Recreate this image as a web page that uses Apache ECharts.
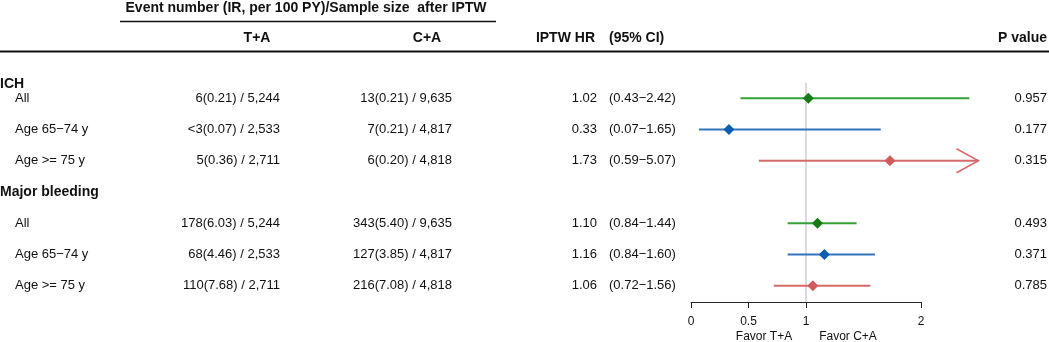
<!DOCTYPE html>
<html>
<head>
<meta charset="utf-8">
<script src="https://cdn.jsdelivr.net/npm/echarts/dist/echarts.min.js"></script>
<style>
  html, body { margin: 0; padding: 0; background: #fff; }
  #forest { width: 1049px; height: 342px; }
</style>
</head>
<body>
<div id="forest"></div>
<script>
// table data
var groups = ['ICH', 'Major bleeding'];
var groupPos = [0.55, 4];
var subgroups = ['All', 'Age 65\u221274 y', 'Age >= 75 y', 'All', 'Age 65\u221274 y', 'Age >= 75 y'];
var rowPos = [1, 2, 3, 5, 6, 7];
var taText = ['6(0.21) / 5,244', '<3(0.07) / 2,533', '5(0.36) / 2,711', '178(6.03) / 5,244', '68(4.46) / 2,533', '110(7.68) / 2,711'];
var caText = ['13(0.21) / 9,635', '7(0.21) / 4,817', '6(0.20) / 4,818', '343(5.40) / 9,635', '127(3.85) / 4,817', '216(7.08) / 4,818'];
var hr = [1.02, 0.33, 1.73, 1.10, 1.16, 1.06];
var lower = [0.43, 0.07, 0.59, 0.84, 0.84, 0.72];
var upper = [2.42, 1.65, 5.07, 1.44, 1.60, 1.56];
var pValues = ['0.957', '0.177', '0.315', '0.493', '0.371', '0.785'];
var tickValues = [0, 0.5, 1, 2];

var lineColors = ['#35a035', '#3474bd', '#d66a6a'];
var dotColors = ['#167a16', '#0c5eae', '#d25a5a'];
var FONT = '"Liberation Sans", Arial, sans-serif';
var clipMax = 2.5;

var chartDom = document.getElementById('forest');
var myChart = echarts.init(chartDom, null, { devicePixelRatio: 1, width: 1049, height: 342 });

var forestData = hr.map(function (h, i) {
  return [h, rowPos[i], lower[i], upper[i], i % 3];
});
var tableData = rowPos.map(function (p, i) { return [0, p, i]; });
var groupData = groupPos.map(function (p, i) { return [0, p, i]; });

function txt(s, x, y, align, bold, size) {
  return {
    type: 'text',
    style: {
      text: s, x: x, y: y, align: align, verticalAlign: 'middle',
      font: (bold ? 'bold ' : '') + (size || 13) + 'px ' + FONT,
      fill: '#111'
    }
  };
}

var option = {
  animation: false,
  grid: [
    { left: 691, top: 67, width: 299, height: 250 },
    { left: 691, top: 301, width: 230, height: 1 }
  ],
  xAxis: [
    { gridIndex: 0, type: 'value', min: 0, max: 2.6, show: false },
    {
      gridIndex: 1, type: 'value', min: 0, max: 2, position: 'bottom',
      axisLine: { show: true, lineStyle: { color: '#222', width: 1 } },
      axisTick: { show: true, length: 6, inside: false, customValues: tickValues, lineStyle: { color: '#222' } },
      axisLabel: { customValues: tickValues, margin: 14, fontSize: 12, color: '#111', fontFamily: FONT },
      splitLine: { show: false }
    }
  ],
  yAxis: [
    { gridIndex: 0, type: 'value', min: 0, max: 8, inverse: true, show: false },
    { gridIndex: 1, type: 'value', min: 0, max: 1, show: false }
  ],
  graphic: [
    txt('Event number (IR, per 100 PY)/Sample size  after IPTW', 306, 8, 'center', true, 14),
    { type: 'line', shape: { x1: 120, y1: 21.5, x2: 496, y2: 21.5 }, style: { stroke: '#111', lineWidth: 1.5 } },
    txt('T+A', 257, 38, 'center', true, 14),
    txt('C+A', 427, 38, 'center', true, 14),
    txt('IPTW HR', 595, 38, 'right', true, 14),
    txt('(95% CI)', 609, 38, 'left', true, 14),
    txt('P value', 1047, 38, 'right', true, 14),
    { type: 'line', shape: { x1: 0, y1: 51.5, x2: 1049, y2: 51.5 }, style: { stroke: '#111', lineWidth: 2 } },
    txt('Favor T+A', 764, 337, 'center', false, 12),
    txt('Favor C+A', 848, 337, 'center', false, 12)
  ],
  series: [
    {
      type: 'line',
      xAxisIndex: 0, yAxisIndex: 0,
      data: [[1, 0.5], [1, 7.5]],
      symbol: 'none',
      lineStyle: { color: '#cfcfcf', width: 1.5 },
      z: 1
    },
    {
      type: 'custom',
      xAxisIndex: 0, yAxisIndex: 0,
      data: forestData,
      z: 3,
      renderItem: function (params, api) {
        var y = api.coord([0, api.value(1)])[1];
        var xc = api.coord([api.value(0), 0])[0];
        var up = api.value(3);
        var xl = api.coord([api.value(2), 0])[0];
        var xu = api.coord([Math.min(up, clipMax), 0])[0];
        var ci = api.value(4);
        var children = [
          { type: 'line', shape: { x1: xl, y1: y, x2: xu, y2: y }, style: { stroke: lineColors[ci], lineWidth: 2 } }
        ];
        if (up > clipMax) {
          children.push({
            type: 'polyline',
            shape: { points: [[xu - 22, y - 12], [xu, y], [xu - 22, y + 12]] },
            style: { stroke: lineColors[ci], lineWidth: 1.5, fill: null }
          });
        }
        children.push({
          type: 'polygon',
          shape: { points: [[xc - 5.5, y], [xc, y - 5.5], [xc + 5.5, y], [xc, y + 5.5]] },
          style: { fill: dotColors[ci] }
        });
        return { type: 'group', children: children };
      }
    },
    {
      type: 'custom',
      xAxisIndex: 0, yAxisIndex: 0,
      data: tableData,
      renderItem: function (params, api) {
        var y = api.coord([0, api.value(1)])[1];
        var i = api.value(2);
        return {
          type: 'group',
          children: [
            txt(subgroups[i], 15, y, 'left'),
            txt(taText[i], 280, y, 'right'),
            txt(caText[i], 452, y, 'right'),
            txt(hr[i].toFixed(2), 597, y, 'right'),
            txt('(' + lower[i].toFixed(2) + '\u2212' + upper[i].toFixed(2) + ')', 609, y, 'left'),
            txt(pValues[i], 1047, y, 'right')
          ]
        };
      }
    },
    {
      type: 'custom',
      xAxisIndex: 0, yAxisIndex: 0,
      data: groupData,
      renderItem: function (params, api) {
        var y = api.coord([0, api.value(1)])[1];
        return txt(groups[api.value(2)], 0, y, 'left', true, 14);
      }
    }
  ]
};

option && myChart.setOption(option);
</script>
</body>
</html>
